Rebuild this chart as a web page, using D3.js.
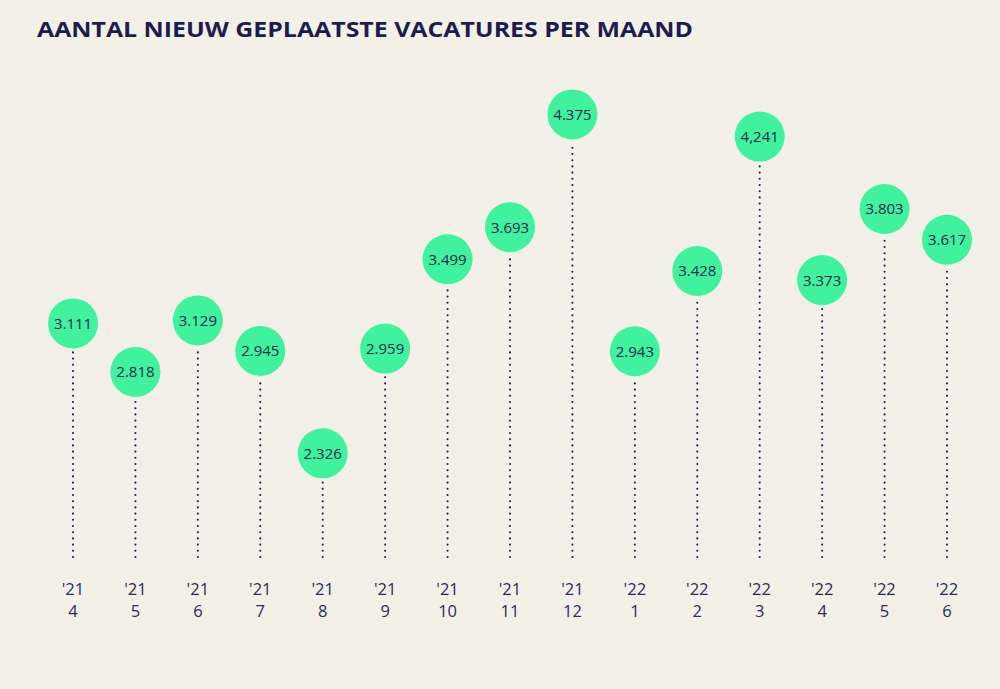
<!DOCTYPE html>
<html>
<head>
<meta charset="utf-8">
<script src="https://cdn.jsdelivr.net/npm/d3@7"></script>
<style>
	html, body { margin: 0; padding: 0; background: #f3f1e7; }
	svg { display: block; }
</style>
</head>
<body>
<div id="chart"></div>
<script>
// maand (jaar-maand), waarden en labels zoals ze in de grafiek staan
var months = ['2021-04', '2021-05', '2021-06', '2021-07', '2021-08', '2021-09', '2021-10', '2021-11',
	'2021-12', '2022-01', '2022-02', '2022-03', '2022-04', '2022-05', '2022-06'];
var vacatures = [3111, 2818, 3129, 2945, 2326, 2959, 3499, 3693, 4375, 2943, 3428, 4241, 3373, 3803, 3617];
var valueLabels = ['3.111', '2.818', '3.129', '2.945', '2.326', '2.959', '3.499', '3.693',
	'4.375', '2.943', '3.428', '4,241', '3.373', '3.803', '3.617'];
var yearLabels = ["'21", "'21", "'21", "'21", "'21", "'21", "'21", "'21", "'21",
	"'22", "'22", "'22", "'22", "'22", "'22"];
var monthLabels = ['4', '5', '6', '7', '8', '9', '10', '11', '12', '1', '2', '3', '4', '5', '6'];

var width = 1000,
	height = 689,
	navy = '#1e1c4e',
	green = '#40f29d',
	radius = 25,
	stemBottom = 557;

var svg = d3.select('#chart').append('svg')
	.attr('width', width)
	.attr('height', height);

svg.append('rect')
	.attr('width', width)
	.attr('height', height)
	.attr('fill', '#f3f1e7');

svg.append('text')
	.attr('x', 37)
	.attr('y', 37)
	.attr('textLength', 656)
	.attr('lengthAdjust', 'spacingAndGlyphs')
	.style('font-family', '"Open Sans", sans-serif')
	.style('font-weight', 700)
	.style('font-size', '22px')
	.attr('fill', navy)
	.text('AANTAL NIEUW GEPLAATSTE VACATURES PER MAAND');

var x = d3.scalePoint()
	.domain(months)
	.range([73, 947]);

var y = d3.scaleLinear()
	.domain([0, 5000])
	.range([838, 11]);

var data = months.map(function(m, i){
	return { month: m, value: vacatures[i], label: valueLabels[i], year: yearLabels[i], mo: monthLabels[i] };
});

var items = svg.selectAll('g.item')
	.data(data)
	.enter()
	.append('g')
	.attr('class', 'item')
	.attr('transform', function(d){ return 'translate(' + x(d.month) + ',0)'; });

// stippellijn, van onder naar boven zodat de onderste stip vast ligt
items.append('line')
	.attr('x1', 0)
	.attr('x2', 0)
	.attr('y1', stemBottom)
	.attr('y2', function(d){ return y(d.value) + radius + 3; })
	.attr('stroke', navy)
	.attr('stroke-width', 2.1)
	.attr('stroke-linecap', 'round')
	.attr('stroke-dasharray', '0 6.2');

items.append('circle')
	.attr('cx', 0)
	.attr('cy', function(d){ return y(d.value); })
	.attr('r', radius)
	.attr('fill', green);

items.append('text')
	.attr('x', 0)
	.attr('y', function(d){ return y(d.value); })
	.attr('dy', '0.36em')
	.attr('text-anchor', 'middle')
	.style('font-family', '"Open Sans", sans-serif')
	.style('font-size', '15px')
	.attr('fill', '#1d2b4c')
	.text(function(d){ return d.label; });

// as-labels
var tick = items.append('text')
	.attr('text-anchor', 'middle')
	.style('font-family', '"Open Sans", sans-serif')
	.style('font-size', '16.5px')
	.attr('fill', '#2b2a5c');

tick.append('tspan')
	.attr('x', 0)
	.attr('y', 595)
	.text(function(d){ return d.year; });

tick.append('tspan')
	.attr('x', 0)
	.attr('y', 617)
	.text(function(d){ return d.mo; });
</script>
</body>
</html>
